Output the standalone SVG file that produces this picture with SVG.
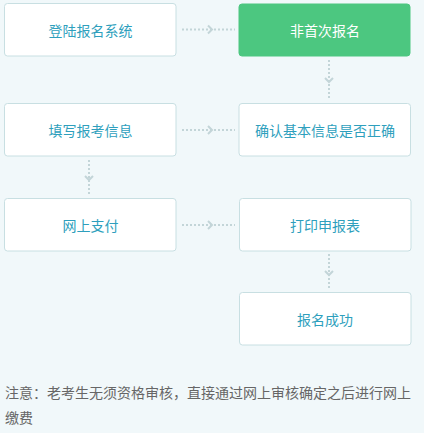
<svg xmlns="http://www.w3.org/2000/svg" width="424" height="433" viewBox="0 0 424 433">
<style>
.box{fill:#ffffff;stroke:#c8dfe2;stroke-width:1}
.green{fill:#4cc780;stroke:#4cc780;stroke-width:1}
.lbl{font-family:"Microsoft YaHei","Noto Sans CJK SC",sans-serif;font-size:14px;fill:#2e9fbd;text-anchor:middle;dominant-baseline:central}
.lblw{fill:#ffffff}
.line{stroke:#c3d5d8;stroke-width:2;stroke-dasharray:2 2;fill:none}
.head{stroke:#c3d5d8;stroke-width:2;fill:none;stroke-linejoin:miter}
.note{font-family:"Microsoft YaHei","Noto Sans CJK SC",sans-serif;font-size:14px;fill:#666666}
</style>
<rect width="424" height="433" fill="#f1f8fa"/>
<g id="connectors">
<line class="line" x1="182" y1="29.5" x2="235" y2="29.5"/>
<polyline class="head" points="208,25.5 212,29.5 208,33.5"/>
<line class="line" x1="329" y1="60" x2="329" y2="100"/>
<polyline class="head" points="325,78 329,82 333,78"/>
<line class="line" x1="182" y1="130" x2="235" y2="130"/>
<polyline class="head" points="208,126 212,130 208,134"/>
<line class="line" x1="89" y1="160" x2="89" y2="195"/>
<polyline class="head" points="85,176 89,180 93,176"/>
<line class="line" x1="182" y1="225" x2="235" y2="225"/>
<polyline class="head" points="208,221 212,225 208,229"/>
<line class="line" x1="329" y1="254" x2="329" y2="289"/>
<polyline class="head" points="325,271 329,275 333,271"/>
</g>
<g id="n1"><rect class="box" x="4.5" y="3.5" width="171.5" height="52.5" rx="3"/><text class="lbl" x="90.5" y="30">登陆报名系统</text></g>
<g id="n2"><rect class="green" x="239" y="4" width="171" height="52" rx="3"/><text class="lbl lblw" x="325" y="30">非首次报名</text></g>
<g id="n3"><rect class="box" x="4.5" y="103.5" width="171.5" height="52.5" rx="3"/><text class="lbl" x="90.5" y="130">填写报考信息</text></g>
<g id="n4"><rect class="box" x="239" y="103.5" width="171.5" height="52.5" rx="3"/><text class="lbl" x="325" y="130">确认基本信息是否正确</text></g>
<g id="n5"><rect class="box" x="4.5" y="198.5" width="171.5" height="52.5" rx="3"/><text class="lbl" x="90.5" y="225">网上支付</text></g>
<g id="n6"><rect class="box" x="239.5" y="198.5" width="171.5" height="52.5" rx="3"/><text class="lbl" x="325" y="225">打印申报表</text></g>
<g id="n7"><rect class="box" x="239.5" y="292.5" width="171.5" height="52.5" rx="3"/><text class="lbl" x="325" y="319">报名成功</text></g>
<g id="note">
<text class="note" x="5" y="398">注意：老考生无须资格审核，直接通过网上审核确定之后进行网上</text>
<text class="note" x="5" y="423">缴费</text>
</g>
</svg>
